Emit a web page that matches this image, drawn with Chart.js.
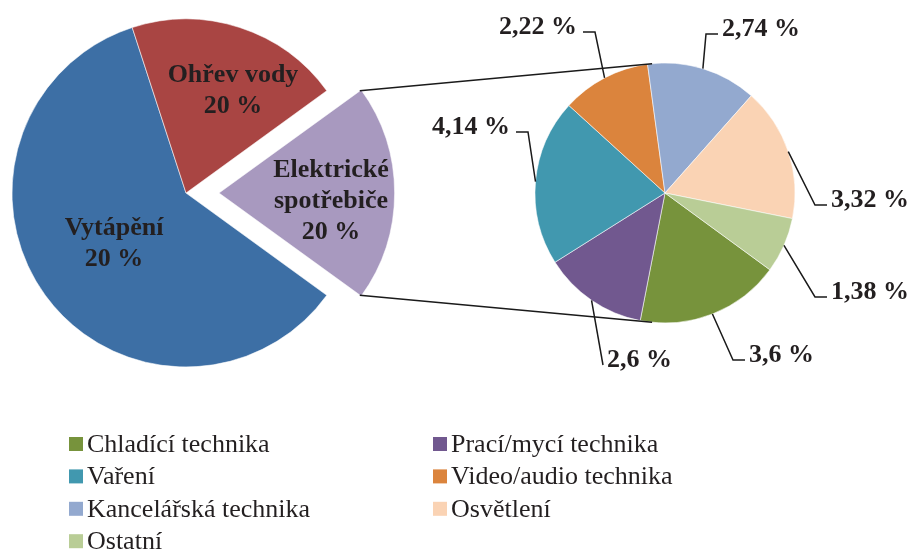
<!DOCTYPE html>
<html lang="cs">
<head>
<meta charset="utf-8">
<title>Spotřeba energie v domácnosti</title>
<script src="https://cdn.jsdelivr.net/npm/chart.js@4.4.1/dist/chart.umd.min.js"></script>
<style>
  html, body { margin: 0; padding: 0; background: #fff; }
  #wrap { position: relative; width: 911px; height: 552px; }
  #wrap canvas { position: absolute; left: 0; top: 0; }
</style>
</head>
<body>
<div id="wrap">
  <canvas id="mainPie" width="911" height="552"></canvas>
  <canvas id="detailPie" width="911" height="552"></canvas>
</div>
<script>
// main pie
const mainCategories = ['Vytápění', 'Ohřev vody', 'Elektrické spotřebiče'];
const mainValues = [60, 20, 20];          // slice sizes as drawn
const mainShownPercent = [20, 20, 20];    // percentages printed on the slices
const mainColors = ['#3D6FA5', '#A94543', '#A899BF'];

// second pie - split of "Elektrické spotřebiče"
const detailCategories = ['Chladící technika', 'Prací/mycí technika', 'Vaření', 'Video/audio technika',
    'Kancelářská technika', 'Osvětlení', 'Ostatní'];
const detailValues = [3.6, 2.6, 4.14, 2.22, 2.74, 3.32, 1.38];
const detailColors = ['#77933C', '#71588F', '#4198AF', '#DB843D', '#93A9CF', '#FAD3B4', '#B9CD96'];

const FONT = '"Liberation Serif", "Times New Roman", serif';
const TEXT = '#231F20';

// label placement (px, relative to slice centre)
const mainLabelShift = [[-72, 48], [47, -105], [112, 6]];
// leader elbows for the detail labels: dx, dy from pie centre, text side, tail length
const detailElbows = [
    [68, 167, 'right', 12],
    [-62, 172, 'right', 0],
    [-137, -61, 'left', 12],
    [-70, -161, 'left', 12],
    [41, -159, 'right', 12],
    [150, 12, 'right', 12],
    [150, 104, 'right', 12]
];
const connectAngle = 5.7; // deg from vertical where the joining lines meet the second pie

function pct(v) {
    return String(v).replace('.', ',') + ' %';
}

function wrapText(ctx, text, maxWidth) {
    const words = text.split(' ');
    const lines = [];
    let line = '';
    words.forEach(w => {
        const test = line ? line + ' ' + w : w;
        if (line && ctx.measureText(test).width > maxWidth) {
            lines.push(line);
            line = w;
        } else {
            line = test;
        }
    });
    if (line) lines.push(line);
    return lines;
}

// centre of an arc including its explode offset (Chart.js moves it by offset / 4)
function arcCentre(arc) {
    const shift = (arc.options.offset || 0) / 4;
    const mid = (arc.startAngle + arc.endAngle) / 2;
    return { x: arc.x + Math.cos(mid) * shift, y: arc.y + Math.sin(mid) * shift };
}

const mainLabels = {
    id: 'mainLabels',
    afterDatasetsDraw(chart) {
        const ctx = chart.ctx;
        const arcs = chart.getDatasetMeta(0).data;
        ctx.save();
        ctx.font = 'bold 26px ' + FONT;
        ctx.fillStyle = TEXT;
        ctx.textAlign = 'center';
        ctx.textBaseline = 'alphabetic';
        arcs.forEach((arc, i) => {
            const c = arcCentre(arc);
            const cx = c.x + mainLabelShift[i][0];
            const cy = c.y + mainLabelShift[i][1];
            const lines = wrapText(ctx, mainCategories[i], 140).concat([mainShownPercent[i] + ' %']);
            lines.forEach((t, k) => {
                ctx.fillText(t, cx, cy + (k - (lines.length - 1) / 2) * 31 + 9);
            });
        });
        ctx.restore();
    }
};

const mainChart = new Chart(document.getElementById('mainPie'), {
    type: 'pie',
    data: {
        labels: mainCategories,
        datasets: [{
            data: mainValues,
            backgroundColor: mainColors,
            borderColor: 'rgba(255,255,255,0.55)',
            borderWidth: 1,
            offset: [0, 0, 132],
            clip: false
        }]
    },
    options: {
        responsive: false,
        animation: false,
        rotation: 126,
        radius: 174,
        layout: { padding: { left: 0, right: 539, top: 0, bottom: 166 } },
        plugins: { legend: { display: false }, tooltip: { enabled: false } }
    },
    plugins: [mainLabels]
});

const detailExtras = {
    id: 'detailExtras',
    afterDraw(chart) {
        const ctx = chart.ctx;
        const arcs = chart.getDatasetMeta(0).data;
        const cx = arcs[0].x, cy = arcs[0].y, R = arcs[0].outerRadius;
        ctx.save();

        // lines joining the exploded slice with the second pie
        const el = mainChart.getDatasetMeta(0).data[2];
        const ec = arcCentre(el);
        const a = connectAngle * Math.PI / 180;
        ctx.strokeStyle = '#1a1a1a';
        ctx.lineWidth = 1.5;
        ctx.beginPath();
        ctx.moveTo(ec.x + Math.cos(el.startAngle) * el.outerRadius, ec.y + Math.sin(el.startAngle) * el.outerRadius);
        ctx.lineTo(cx + Math.cos(-Math.PI / 2 - a) * R, cy + Math.sin(-Math.PI / 2 - a) * R);
        ctx.moveTo(ec.x + Math.cos(el.endAngle) * el.outerRadius, ec.y + Math.sin(el.endAngle) * el.outerRadius);
        ctx.lineTo(cx + Math.cos(Math.PI / 2 + a) * R, cy + Math.sin(Math.PI / 2 + a) * R);
        ctx.stroke();

        // leader lines and value labels
        ctx.font = 'bold 26px ' + FONT;
        ctx.fillStyle = TEXT;
        ctx.textBaseline = 'alphabetic';
        arcs.forEach((arc, i) => {
            const mid = (arc.startAngle + arc.endAngle) / 2;
            const sx = cx + Math.cos(mid) * R, sy = cy + Math.sin(mid) * R;
            const [dx, dy, side, tail] = detailElbows[i];
            const ex = cx + dx, ey = cy + dy;
            const hx = side === 'left' ? ex - tail : ex + tail;
            ctx.beginPath();
            ctx.moveTo(sx, sy);
            ctx.lineTo(ex, ey);
            ctx.lineTo(hx, ey);
            ctx.stroke();
            ctx.textAlign = side === 'left' ? 'right' : 'left';
            ctx.fillText(pct(detailValues[i]), side === 'left' ? hx - 6 : hx + 4, ey + 1.5);
        });

        // legend, two columns
        ctx.font = '26px ' + FONT;
        ctx.textAlign = 'left';
        detailCategories.forEach((name, i) => {
            const col = i % 2, row = Math.floor(i / 2);
            const x = col ? 433 : 69;
            const base = 452 + row * 32.4;
            ctx.fillStyle = detailColors[i];
            ctx.fillRect(x, base - 15, 14, 14);
            ctx.fillStyle = TEXT;
            ctx.fillText(name, x + 18, base);
        });
        ctx.restore();
    }
};

const detailChart = new Chart(document.getElementById('detailPie'), {
    type: 'pie',
    data: {
        labels: detailCategories,
        datasets: [{
            data: detailValues,
            backgroundColor: detailColors,
            borderColor: 'rgba(255,255,255,0.55)',
            borderWidth: 1,
            clip: false
        }]
    },
    options: {
        responsive: false,
        animation: false,
        rotation: 126.2,
        radius: 130,
        layout: { padding: { left: 535, right: 116, top: 63, bottom: 229 } },
        plugins: { legend: { display: false }, tooltip: { enabled: false } }
    },
    plugins: [detailExtras]
});
</script>
</body>
</html>
